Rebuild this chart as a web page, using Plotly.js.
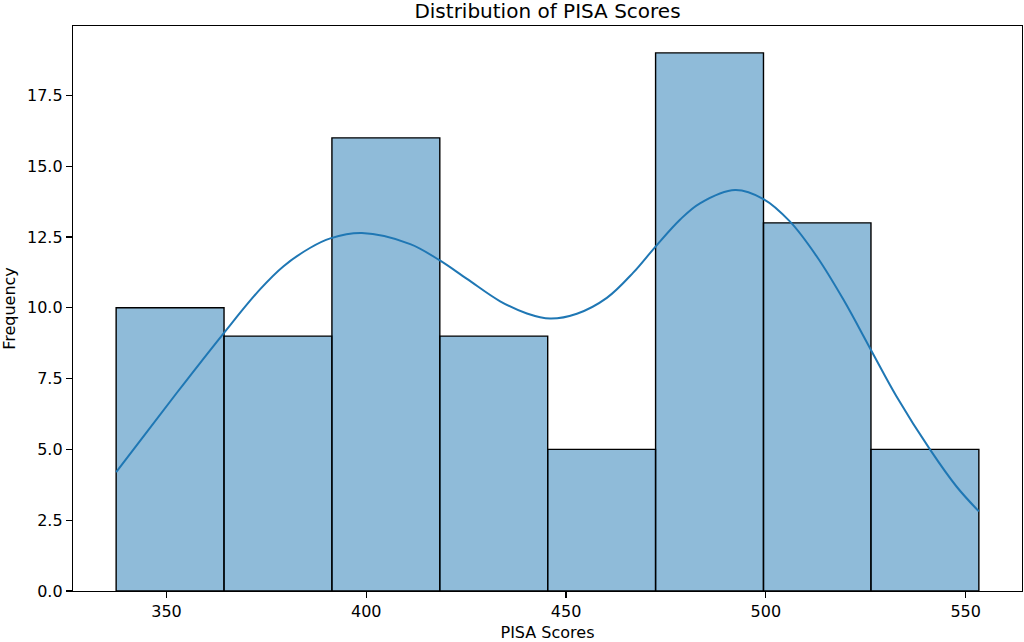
<!DOCTYPE html>
<html>
<head>
<meta charset="utf-8">
<script src="https://cdn.plot.ly/plotly-3.0.1.min.js"></script>
<style>
  html, body { margin: 0; padding: 0; background: #ffffff; }
  #chart { width: 1024px; height: 642px; }
</style>
</head>
<body>
<div id="chart"></div>
<script>
// Histogram bin edges (PISA score) and counts per bin
const binEdges = [337.4, 364.4, 391.4, 418.4, 445.4, 472.4, 499.4, 526.3, 553.3];
const binCounts = [10, 9, 16, 9, 5, 19, 13, 5];

// KDE curve (scaled to counts)
const kdeX = [337.4, 344.2, 352.6, 364.3, 373.4, 379.3, 386.0, 391.0, 398.9, 411.0,
              418.3, 425.2, 433.5, 440.2, 446.0, 452.7, 460.2, 466.8, 472.5, 478.5,
              483.5, 492.3, 499.4, 506.0, 512.7, 519.4, 526.5, 532.7, 541.1, 547.7, 553.3];
const kdeY = [4.2, 5.45, 7.0, 9.1, 10.65, 11.47, 12.12, 12.45, 12.64, 12.25,
              11.68, 11.02, 10.23, 9.8, 9.62, 9.79, 10.35, 11.24, 12.18, 13.11,
              13.69, 14.16, 13.84, 13.05, 11.82, 10.29, 8.46, 6.87, 4.99, 3.69, 2.81];

const xTicks = [350, 400, 450, 500, 550];
const yTicks = [0, 2.5, 5, 7.5, 10, 12.5, 15, 17.5];

const centers = binCounts.map((_, i) => (binEdges[i] + binEdges[i + 1]) / 2);
const widths = binCounts.map((_, i) => binEdges[i + 1] - binEdges[i]);

const FONT = 'DejaVu Sans, sans-serif';

const bars = {
  type: 'bar',
  x: centers,
  y: binCounts,
  width: widths,
  marker: {
    color: 'rgba(31,119,180,0.5)',
    line: { color: '#000000', width: 1.4 }
  },
  hoverinfo: 'skip',
  showlegend: false
};

const kde = {
  type: 'scatter',
  mode: 'lines',
  x: kdeX,
  y: kdeY,
  line: { color: '#1f77b4', width: 2, shape: 'spline', smoothing: 1 },
  hoverinfo: 'skip',
  showlegend: false
};

const xmin = binEdges[0], xmax = binEdges[binEdges.length - 1];
const pad = (xmax - xmin) * 0.05;
const ymax = Math.max(...binCounts) * 1.05;

const layout = {
  width: 1024,
  height: 642,
  margin: { l: 73, r: 2, t: 26, b: 51, pad: 0 },
  paper_bgcolor: '#ffffff',
  plot_bgcolor: '#ffffff',
  font: { family: FONT, size: 16, color: '#000000' },
  bargap: 0,
  title: {
    text: 'Distribution of PISA Scores',
    font: { family: FONT, size: 20, color: '#000000' },
    x: 0.5, xref: 'paper', xanchor: 'center',
    y: 1 - 11 / 642, yref: 'container', yanchor: 'middle'
  },
  xaxis: {
    range: [xmin - pad, xmax + pad],
    tickvals: xTicks,
    ticktext: xTicks.map(String),
    ticks: 'outside', ticklen: 6, tickwidth: 1.2, tickcolor: '#000000',
    showline: true, linecolor: '#000000', linewidth: 1.2, mirror: true,
    showgrid: false, zeroline: false,
    tickfont: { family: FONT, size: 16, color: '#000000' },
    title: { text: 'PISA Scores', font: { family: FONT, size: 16, color: '#000000' }, standoff: 9 }
  },
  yaxis: {
    range: [0, ymax],
    tickvals: yTicks,
    ticktext: yTicks.map(v => v.toFixed(1)),
    ticks: 'outside', ticklen: 6, tickwidth: 1.2, tickcolor: '#000000',
    showline: true, linecolor: '#000000', linewidth: 1.2, mirror: true,
    showgrid: false, zeroline: false,
    tickfont: { family: FONT, size: 16, color: '#000000' },
    title: { text: 'Frequency', font: { family: FONT, size: 16, color: '#000000' }, standoff: 8 }
  }
};

Plotly.newPlot('chart', [bars, kde], layout, { staticPlot: true, displayModeBar: false });
</script>
</body>
</html>
